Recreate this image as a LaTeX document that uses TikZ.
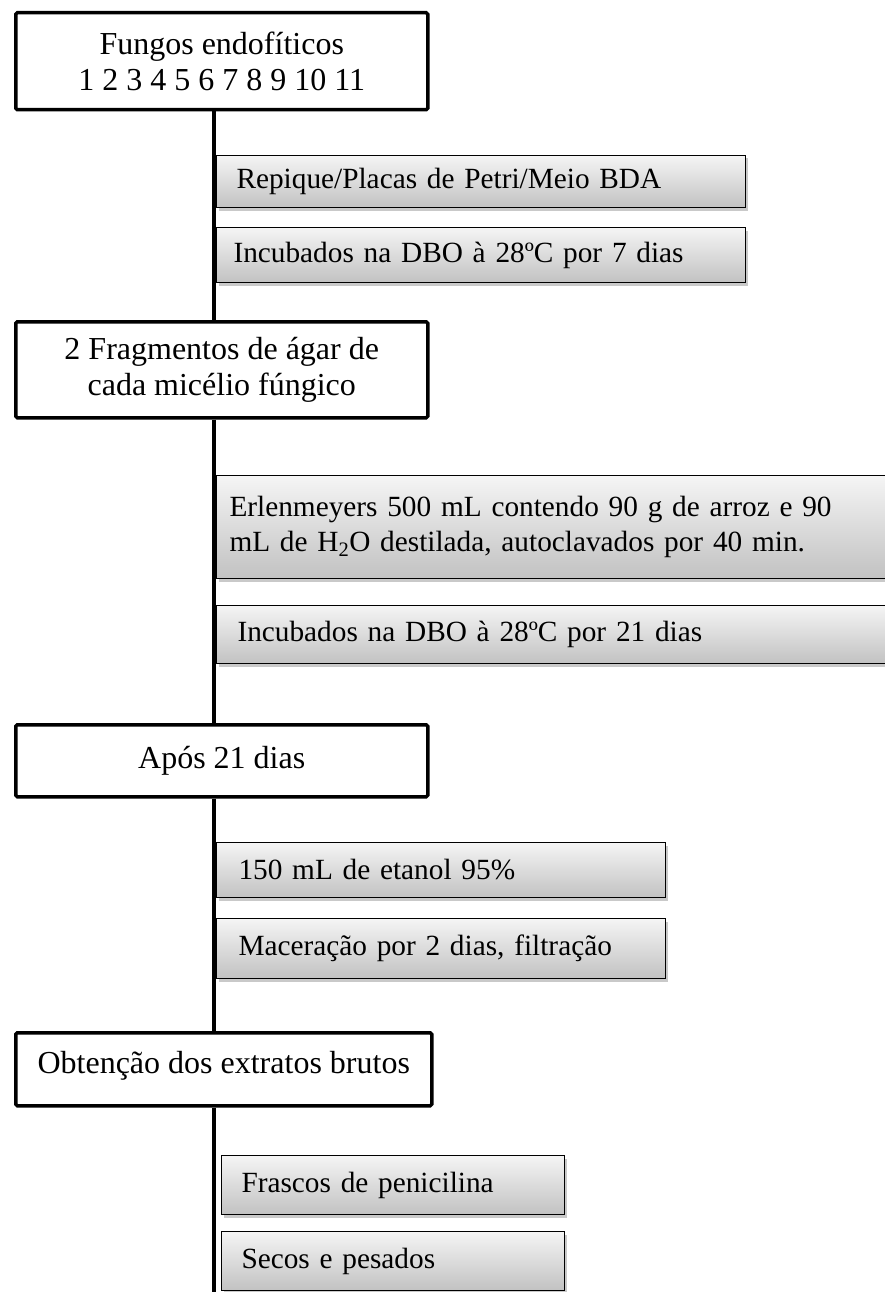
\documentclass[tikz,border=0pt]{standalone}
\usepackage{fontspec}
\setmainfont{Liberation Serif}
\usetikzlibrary{shadows}
\tikzset{
  mainbox/.style={draw=black, line width=3.5pt, fill=white, rounded corners=1.5pt,
    anchor=north west, align=center, inner sep=0pt,
    font=\fontsize{32}{36}\selectfont},
  subbox/.style={draw=black, line width=1pt, top color=black!4, bottom color=black!24,
    anchor=north west, align=left, inner ysep=0pt,
    drop shadow={shadow xshift=2.5pt, shadow yshift=-3pt, opacity=0.35, fill=black!60},
    font=\fontsize{29.3}{35}\selectfont},
  spine/.style={draw=black, line width=3.5pt},
}
\begin{document}
\begin{tikzpicture}[x=1pt,y=-1pt]
\useasboundingbox[fill=white] (0,0) rectangle (884,1292);
\coordinate (sp) at (214,0);
\coordinate (end) at (214,1300);

% main boxes
\node[mainbox, minimum width=412, minimum height=97] (b1) at (14,11)
  {Fungos endofíticos\\1 2 3 4 5 6 7 8 9 10 11};
\node[mainbox, minimum width=412, minimum height=96] (b2) at (14,320)
  {2 Fragmentos de ágar de\\cada micélio fúngico};
\node[mainbox, minimum width=412, minimum height=72] (b3) at (14,723)
  {Após 21 dias};
\node[mainbox, minimum width=416, minimum height=73, text depth=14pt] (b4) at (14,1031)
  {Obtenção dos extratos brutos};

% spine
\draw[spine] (b1.south -| sp) -- (b2.north -| sp);
\draw[spine] (b2.south -| sp) -- (b3.north -| sp);
\draw[spine] (b3.south -| sp) -- (b4.north -| sp);
\draw[spine] (b4.south -| sp) -- (end);

% sub boxes
\node[subbox, minimum width=529, minimum height=52, inner xsep=20pt, text width=489pt] (s1) at (216,155)
  {Repique/Placas de Petri/Meio BDA};
\node[subbox, minimum width=529, minimum height=55, inner xsep=17pt, text width=495pt] (s2) at (216,227)
  {Incubados na DBO à 28ºC por 7 dias};
\node[subbox, minimum width=690, minimum height=103, inner xsep=13pt, text width=664pt] (s3) at (216,475)
  {Erlenmeyers 500 mL contendo 90 g de arroz e 90\\mL de H\textsubscript{2}O destilada, autoclavados por 40 min.};
\node[subbox, minimum width=690, minimum height=58, inner xsep=21pt, text width=648pt] (s4) at (216,605)
  {Incubados na DBO à 28ºC por 21 dias};
\node[subbox, minimum width=449, minimum height=55, inner xsep=22pt, text width=405pt] (s5) at (216,842)
  {150 mL de etanol 95\%};
\node[subbox, minimum width=449, minimum height=60, inner xsep=22pt, text width=405pt] (s6) at (216,918)
  {Maceração por 2 dias, filtração};
\node[subbox, minimum width=343, minimum height=59, inner xsep=20pt, text width=303pt] (s7) at (221,1155)
  {Frascos de penicilina};
\node[subbox, minimum width=343, minimum height=59, inner xsep=20pt, text width=303pt] (s8) at (221,1231)
  {Secos e pesados};
\end{tikzpicture}
\end{document}
